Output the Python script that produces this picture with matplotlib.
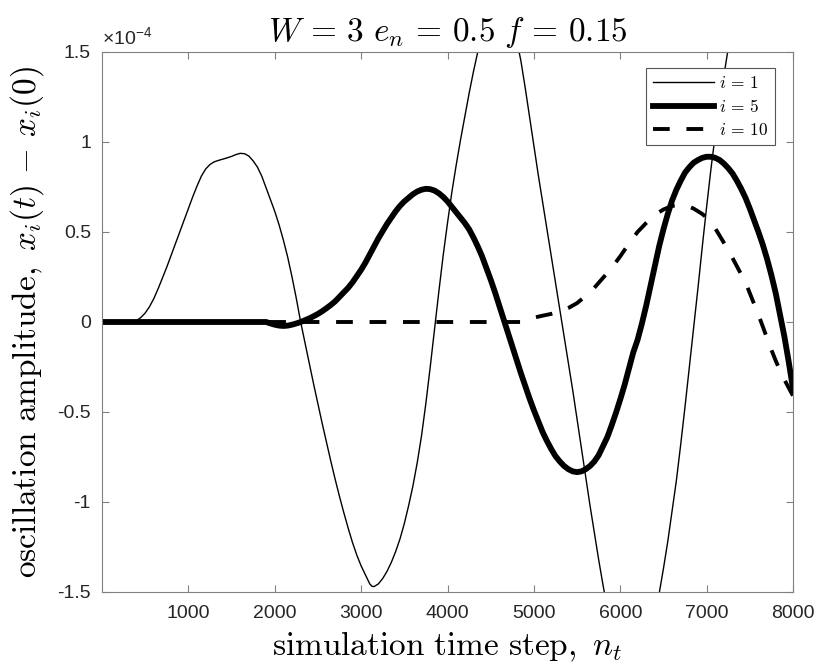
import matplotlib
matplotlib.use("Agg")
import matplotlib.pyplot as plt

plt.rcParams['font.family'] = ['Liberation Sans', 'DejaVu Sans']
plt.rcParams['mathtext.fontset'] = 'cm'
plt.rcParams['axes.unicode_minus'] = False

# simulation time steps and amplitudes (in units of 1e-4)
x1 = [0, 300, 350, 400, 450, 500, 550, 600, 650, 700, 750, 800, 850, 900, 950, 1000,
      1050, 1100, 1150, 1200, 1250, 1300, 1350, 1400, 1450, 1500, 1550, 1600, 1650,
      1700, 1750, 1800, 1850, 1900, 1950, 2000, 2050, 2100, 2150, 2200, 2250, 2300,
      2350, 2400, 2450, 2500, 2550, 2600, 2650, 2700, 2750, 2800, 2850, 2900, 2950,
      3000, 3050, 3100, 3125, 3150, 3200, 3250, 3300, 3350, 3400, 3450, 3500, 3550,
      3600, 3650, 3700, 3750, 3800, 3850, 3900, 3950, 4000, 4050, 4100, 4150, 4200,
      4250, 4300, 4350, 4400, 4450, 4500, 4550, 4600, 4650, 4700, 4750, 4800, 4850,
      4900, 4950, 5000, 5050, 5100, 5150, 5200, 5250, 5300, 5350, 5400, 5450, 5500,
      5550, 5600, 5650, 5700, 5750, 5800, 5850, 5900, 5950, 6000, 6050, 6100, 6150,
      6200, 6250, 6300, 6350, 6400, 6450, 6500, 6550, 6600, 6650, 6700, 6750, 6800,
      6850, 6900, 6950, 7000, 7050, 7100, 7150, 7200, 7250, 7300, 7350, 7400]
y1 = [0, 0, 0.0, 0.008, 0.025, 0.05, 0.085, 0.13, 0.185, 0.245, 0.305, 0.37, 0.435, 0.50, 0.565, 0.63,
      0.695, 0.755, 0.81, 0.85, 0.875, 0.89, 0.898, 0.905, 0.912, 0.92, 0.93, 0.937, 0.935,
      0.922, 0.895, 0.86, 0.81, 0.745, 0.68, 0.615, 0.54, 0.455, 0.36, 0.25, 0.13, 0.0,
      -0.115, -0.23, -0.345, -0.455, -0.565, -0.67, -0.775, -0.875, -0.97, -1.06, -1.145, -1.225, -1.295,
      -1.355, -1.405, -1.455, -1.468, -1.47, -1.455, -1.425, -1.385, -1.335, -1.275, -1.205, -1.12, -1.02,
      -0.91, -0.78, -0.63, -0.45, -0.25, -0.04, 0.17, 0.37, 0.55, 0.72, 0.87, 1.01, 1.14,
      1.27, 1.39, 1.50, 1.59, 1.66, 1.715, 1.745, 1.76, 1.75, 1.715, 1.655, 1.57, 1.45,
      1.30, 1.14, 0.98, 0.82, 0.67, 0.52, 0.37, 0.22, 0.07, -0.08, -0.23, -0.38, -0.54,
      -0.70, -0.86, -1.02, -1.17, -1.32, -1.46, -1.59, -1.70, -1.79, -1.86, -1.905, -1.93, -1.93,
      -1.91, -1.87, -1.81, -1.73, -1.63, -1.51, -1.37, -1.22, -1.05, -0.88, -0.68, -0.47, -0.25,
      -0.03, 0.19, 0.42, 0.64, 0.85, 1.04, 1.21, 1.37, 1.52, 1.65, 1.76, 1.86]

x5 = [0, 1900, 1950, 2000, 2050, 2100, 2150, 2200, 2250, 2300, 2350, 2400, 2450, 2500,
      2550, 2600, 2650, 2700, 2750, 2800, 2850, 2900, 2950, 3000, 3050, 3100, 3150, 3200,
      3250, 3300, 3350, 3400, 3450, 3500, 3550, 3600, 3650, 3700, 3750, 3800, 3850, 3900,
      3950, 4000, 4050, 4100, 4150, 4200, 4250, 4300, 4350, 4400, 4450, 4500, 4550, 4600,
      4650, 4700, 4750, 4800, 4850, 4900, 4950, 5000, 5050, 5100, 5150, 5200, 5250, 5300,
      5350, 5400, 5450, 5500, 5550, 5600, 5650, 5700, 5750, 5800, 5850, 5900, 5950, 6000,
      6050, 6100, 6150, 6200, 6250, 6300, 6350, 6400, 6450, 6500, 6550, 6600, 6650, 6700,
      6750, 6800, 6850, 6900, 6950, 7000, 7050, 7100, 7150, 7200, 7250, 7300, 7350, 7400,
      7450, 7500, 7550, 7600, 7650, 7700, 7750, 7800, 7850, 7900, 7950, 8000]
y5 = [0, 0, -0.008, -0.015, -0.02, -0.022, -0.02, -0.015, -0.008, 0.0, 0.01, 0.02, 0.032, 0.045,
      0.06, 0.077, 0.095, 0.115, 0.14, 0.165, 0.19, 0.22, 0.255, 0.29, 0.33, 0.375, 0.42, 0.465,
      0.505, 0.545, 0.58, 0.615, 0.645, 0.67, 0.69, 0.71, 0.725, 0.735, 0.74, 0.738, 0.73, 0.715,
      0.695, 0.67, 0.64, 0.61, 0.58, 0.55, 0.515, 0.47, 0.42, 0.365, 0.30, 0.235, 0.165, 0.09,
      0.015, -0.06, -0.135, -0.21, -0.285, -0.355, -0.425, -0.49, -0.55, -0.61, -0.66, -0.705, -0.745, -0.775,
      -0.80, -0.818, -0.83, -0.834, -0.83, -0.818, -0.80, -0.775, -0.74, -0.69, -0.64, -0.575, -0.505, -0.43,
      -0.35, -0.26, -0.17, -0.10, -0.01, 0.09, 0.20, 0.31, 0.42, 0.515, 0.60, 0.675, 0.735, 0.785,
      0.83, 0.86, 0.885, 0.90, 0.912, 0.918, 0.918, 0.912, 0.90, 0.88, 0.855, 0.825, 0.785, 0.74,
      0.69, 0.63, 0.565, 0.50, 0.43, 0.35, 0.26, 0.16, 0.04, -0.08, -0.22, -0.37]

x10 = [0, 4850, 4900, 4950, 5000, 5100, 5200, 5300, 5400, 5500, 5600, 5700, 5800, 5900,
       6000, 6100, 6200, 6300, 6400, 6500, 6600, 6700, 6750, 6800, 6850, 6900, 6950, 7000,
       7050, 7100, 7150, 7200, 7250, 7300, 7350, 7400, 7450, 7500, 7550, 7600, 7650, 7700,
       7750, 7800, 7850, 7900, 7950, 8000]
y10 = [0, 0, 0.01, 0.018, 0.024, 0.035, 0.045, 0.058, 0.078, 0.105, 0.145, 0.19, 0.245, 0.30,
       0.365, 0.435, 0.50, 0.55, 0.595, 0.625, 0.645, 0.65, 0.648, 0.64, 0.63, 0.615, 0.60, 0.58,
       0.555, 0.52, 0.48, 0.44, 0.40, 0.355, 0.31, 0.265, 0.22, 0.16, 0.10, 0.04, -0.025, -0.09,
       -0.155, -0.215, -0.27, -0.32, -0.365, -0.41]

xticks = [1000, 2000, 3000, 4000, 5000, 6000, 7000, 8000]
yticks = [-1.5, -1, -0.5, 0, 0.5, 1, 1.5]
ytick_labels = ['-1.5', '-1', '-0.5', '0', '0.5', '1', '1.5']

fig = plt.figure(figsize=(8.18, 6.71), dpi=100)
ax = fig.add_axes([102/818, 1 - 592/671, (793 - 102)/818, (592 - 52)/671])

ax.plot(x1, y1, color='k', lw=1.0, label=r'$i\,=\,1$')
ax.plot(x5, y5, color='k', lw=4.2, label=r'$i\,=\,5$')
ax.plot(x10, y10, color='k', lw=2.8, ls=(0, (4.3, 4.3)), label=r'$i\,=\,10$')

ax.set_xlim(0, 8000)
ax.set_ylim(-1.5, 1.5)
ax.set_xticks(xticks)
ax.set_xticklabels([str(t) for t in xticks])
ax.set_yticks(yticks)
ax.set_yticklabels(ytick_labels)

ax.tick_params(direction='in', top=True, right=True, length=5, width=0.8,
               color='#808080', labelsize=14, labelcolor='#262626')
ax.tick_params(axis='x', pad=9)
ax.tick_params(axis='y', pad=8)
for s in ax.spines.values():
    s.set_color('#808080')
    s.set_linewidth(0.8)

ax.set_xlabel(r'$\mathrm{simulation\ time\ step,}\ n_t$', fontsize=24, labelpad=6)
ax.set_ylabel(r'$\mathrm{oscillation\ amplitude,}\ x_i(t)\,-\,x_i(0)$', fontsize=24, labelpad=8)
ax.set_title(r'$W\,=\,3\ e_n\,=\,0.5\ f\,=\,0.15$', fontsize=24, pad=8)

# exponent label like MATLAB
ax.text(0.0, 1.008, r'$\mathregular{\times10^{-4}}$', transform=ax.transAxes,
        fontsize=14, color='#262626', ha='left', va='bottom')

leg = ax.legend(loc='upper right', bbox_to_anchor=(0.9745, 0.9698), borderaxespad=0,
                fontsize=12.5, handlelength=3.5, handletextpad=0.3, labelspacing=0.4,
                borderpad=0.4, fancybox=False, framealpha=1, edgecolor='#555555')
leg.get_frame().set_linewidth(0.8)

fig.savefig('out.png', dpi=100)
